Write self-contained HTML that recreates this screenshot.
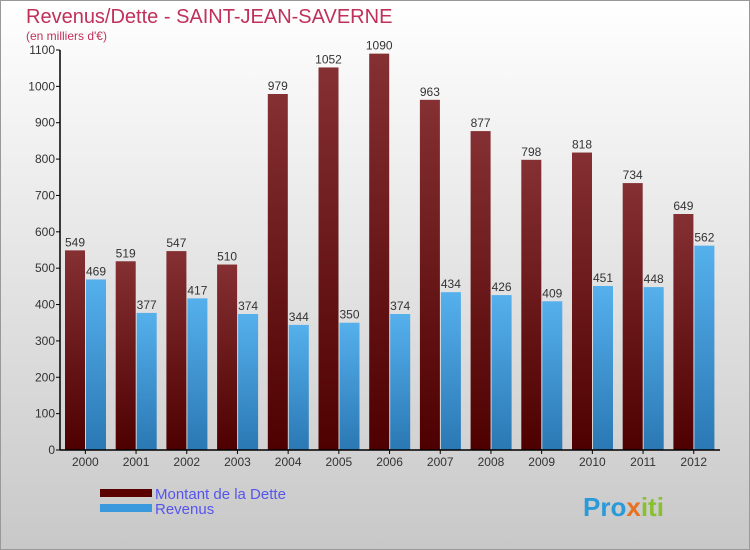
<!DOCTYPE html>
<html><head><meta charset="utf-8"><style>
body{margin:0;width:750px;height:550px;overflow:hidden;font-family:"Liberation Sans",sans-serif}
#c{position:absolute;left:0;top:0}
</style></head><body>
<svg id="c" width="750" height="550">
<defs>
<linearGradient id="bg" x1="0" y1="0" x2="0" y2="1"><stop offset="0" stop-color="#ffffff"/><stop offset="1" stop-color="#c8c8c8"/></linearGradient>
<linearGradient id="gd" x1="0" y1="0" x2="0" y2="1"><stop offset="0" stop-color="#853033"/><stop offset="1" stop-color="#4e0000"/></linearGradient>
<linearGradient id="gr" x1="0" y1="0" x2="0" y2="1"><stop offset="0" stop-color="#55b0ec"/><stop offset="1" stop-color="#2a78b4"/></linearGradient>
</defs>
<rect x="0.5" y="0.5" width="749" height="549" fill="url(#bg)" stroke="#999"/>
<text x="26" y="23" font-size="20" fill="#c0305a">Revenus/Dette - SAINT-JEAN-SAVERNE</text>
<text x="26" y="40" font-size="12" fill="#c0305a">(en milliers d'€)</text>
<g id="grid"></g>
<g id="bars"></g>
<line x1="60" y1="50" x2="60" y2="450" stroke="#000" stroke-width="1.5"/>
<line x1="60" y1="450" x2="720" y2="450" stroke="#000" stroke-width="1.5"/>
<rect x="100" y="489" width="52" height="8" fill="#5a0000"/>
<rect x="100" y="504" width="52" height="8" fill="#3a98dc"/>
<text x="155" y="499" font-size="15" fill="#5555ee">Montant de la Dette</text>
<text x="155" y="514" font-size="15" fill="#5555ee">Revenus</text>
<text x="583" y="516" font-size="26" font-weight="bold" fill="#2a9ad8">Pro<tspan fill="#e87020">x</tspan><tspan fill="#88c030">iti</tspan></text>
</svg>
<script>
const years=["2000","2001","2002","2003","2004","2005","2006","2007","2008","2009","2010","2011","2012"];
const dette=[549,519,547,510,979,1052,1090,963,877,798,818,734,649];
const revenus=[469,377,417,374,344,350,374,434,426,409,451,448,562];
const yTicks=[0,100,200,300,400,500,600,700,800,900,1000,1100];
const NS="http://www.w3.org/2000/svg";
const x0=60,gw=50.7,y0=450,ymax=1100,ph=400;
const y=v=>y0-v/ymax*ph;
function mk(t,a,p){const e=document.createElementNS(NS,t);for(const k in a)e.setAttribute(k,a[k]);p.appendChild(e);return e;}
const grid=document.getElementById('grid'),bars=document.getElementById('bars');
yTicks.forEach(v=>{
 const l=mk('line',{x1:56,x2:60,y1:y(v),y2:y(v),stroke:'#000'},grid);
 
 
 const t=mk('text',{x:55,y:y(v)+4,'font-size':12,'text-anchor':'end',fill:'#333'},grid);
 
 
 t.textContent=v;
});
years.forEach((yr,i)=>{
 const gx=x0+i*gw;
 const d=mk('rect',{x:gx+5,y:y(dette[i]),width:20,height:y0-y(dette[i]),fill:'url(#gd)'},bars);
 
 
 const r=mk('rect',{x:gx+26,y:y(revenus[i]),width:20,height:y0-y(revenus[i]),fill:'url(#gr)'},bars);
 
 
 const td=mk('text',{x:gx+15,y:y(dette[i])-4,'font-size':12,'text-anchor':'middle',fill:'#333'},bars);
 
 
 td.textContent=dette[i];
 const tr=mk('text',{x:gx+36,y:y(revenus[i])-4,'font-size':12,'text-anchor':'middle',fill:'#333'},bars);
 
 
 tr.textContent=revenus[i];
 const tk=mk('line',{x1:gx+gw/2,x2:gx+gw/2,y1:450,y2:454,stroke:'#000'},bars);
 
 
 const xl=mk('text',{x:gx+gw/2,y:466,'font-size':12,'text-anchor':'middle',fill:'#333'},bars);
 
 
 xl.textContent=yr;
});
</script>
</body></html>
